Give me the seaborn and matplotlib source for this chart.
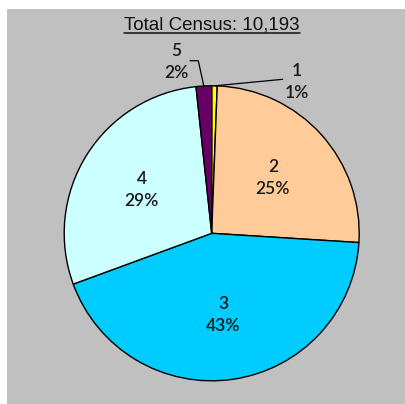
import matplotlib
matplotlib.use("Agg")
import matplotlib.pyplot as plt
from matplotlib.patches import Rectangle
from matplotlib.lines import Line2D
import numpy as np
import seaborn as sns

# Census breakdown by group
categories = ["1", "2", "3", "4", "5"]
counts = [61, 2589, 4424, 2946, 173]
slice_colors = ["#FFFF00", "#FFCC99", "#00CCFF", "#CCFFFF", "#660066"]
title_text = "Total Census: 10,193"

sns.set_theme(style="white")
plt.rcParams["font.family"] = ["Lato", "DejaVu Sans"]

W, H = 406, 404
fig = plt.figure(figsize=(W / 100, H / 100), dpi=100, facecolor="white")

# grey chart area
fig.patches.append(Rectangle((7 / W, 0), 1 - 7 / W, 1 - 9 / H,
                             transform=fig.transFigure, facecolor="#C0C0C0",
                             edgecolor="none", zorder=-5))

R = 147.5
cx, cy = 211.7, 233.3
ax = fig.add_axes([(cx - R) / W, (H - cy - R) / H, 2 * R / W, 2 * R / H])
ax.set_axis_off()
ax.set_zorder(2)

palette = sns.color_palette(slice_colors)
total = sum(counts)
wedges, _ = ax.pie(counts, colors=palette, startangle=90, counterclock=False,
                   radius=1.0,
                   wedgeprops=dict(edgecolor="black", linewidth=1.0))
ax.set_xlim(-1, 1)
ax.set_ylim(-1, 1)
ax.set_aspect("equal")

label_kw = dict(ha="center", va="center", fontsize=12.5, color="#1a1a1a",
                fontweight="semibold", linespacing=1.45, clip_on=False)

# small slices get labels pulled outside with leader lines
outside_pos = {0: (0.578, 1.027), 4: (-0.242, 1.161)}
leader_start = {0: [(0.481, 1.044)], 4: [(-0.147, 1.170), (-0.091, 1.170)]}

for i, (w, name, n) in enumerate(zip(wedges, categories, counts)):
    pct = 100 * n / total
    text = f"{name}\n{pct:.0f}%"
    mid = np.deg2rad((w.theta1 + w.theta2) / 2)
    if i in outside_pos:
        x, y = outside_pos[i]
        ax.text(x, y, text, **label_kw)
        pts = leader_start[i] + [(np.cos(mid), np.sin(mid))]
        xs, ys = zip(*pts)
        ax.add_line(Line2D(xs, ys, color="black", linewidth=0.9, clip_on=False))
    else:
        ax.text(0.56 * np.cos(mid), 0.56 * np.sin(mid), text, **label_kw)

title = fig.text(211.9 / W, 1 - 25 / H, title_text, ha="center", va="center",
                 fontsize=13.5, family=["Liberation Sans", "DejaVu Sans"],
                 color="#111111")
fig.canvas.draw()
bb = title.get_window_extent()
uy = (H - 32.5) / H
fig.add_artist(Line2D([bb.x0 / W, bb.x1 / W], [uy, uy], color="#111111",
                      linewidth=1.1, transform=fig.transFigure))

fig.savefig("out.png", dpi=100, facecolor="white")
